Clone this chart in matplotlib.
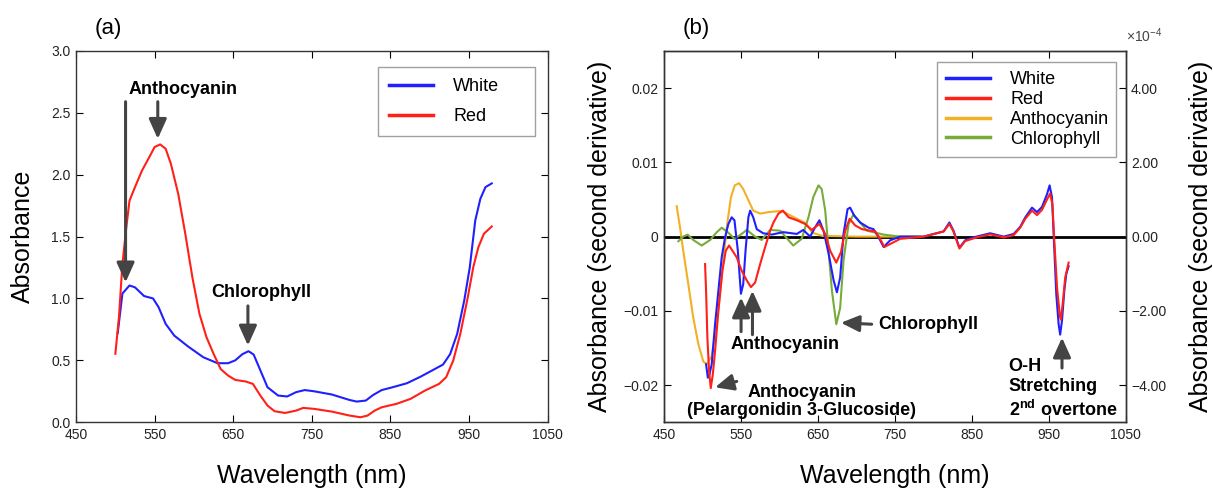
#!/usr/bin/env python3
from __future__ import annotations

import matplotlib

matplotlib.use("Agg")
import matplotlib.pyplot as plt
from matplotlib.ticker import FixedLocator, FuncFormatter


# panel (a): absorbance spectra
WHITE_WL = [503, 509, 518, 525, 536.5, 548, 555, 564, 575, 593, 612, 630, 643.5,
            652.6, 661.7, 669.4, 676, 684.5, 693.6, 707, 718.6, 730, 741, 753,
            775.5, 798, 807, 818.7, 828, 839, 853, 871, 889, 903, 917, 926, 935,
            944, 951, 958, 964.5, 971, 979]
WHITE_ABS = [0.72, 1.04, 1.105, 1.09, 1.02, 1.0, 0.93, 0.795, 0.70, 0.61, 0.525,
             0.477, 0.477, 0.50, 0.55, 0.574, 0.547, 0.42, 0.283, 0.216, 0.208,
             0.243, 0.26, 0.25, 0.224, 0.18, 0.167, 0.175, 0.22, 0.26, 0.283,
             0.315, 0.37, 0.418, 0.466, 0.55, 0.714, 0.984, 1.25, 1.63, 1.806,
             1.9, 1.93]

RED_WL = [500, 504.6, 509, 514, 518, 525, 534, 543, 550, 557, 564, 570.6, 580,
          589, 598, 607, 616, 625, 634, 643.5, 652.6, 666, 675, 684.5, 693.6,
          702.6, 716, 730, 739, 753, 775.5, 798, 812, 821, 830, 839, 857.5,
          875.7, 894, 912, 921, 930, 939, 948.5, 955.5, 962, 969, 979]
RED_ABS = [0.553, 0.85, 1.28, 1.577, 1.79, 1.90, 2.035, 2.14, 2.224, 2.245, 2.21,
           2.09, 1.846, 1.523, 1.172, 0.876, 0.687, 0.553, 0.43, 0.377, 0.342,
           0.329, 0.31, 0.216, 0.135, 0.089, 0.075, 0.094, 0.116, 0.108, 0.086,
           0.054, 0.04, 0.054, 0.094, 0.121, 0.148, 0.189, 0.256, 0.31, 0.364,
           0.499, 0.714, 1.01, 1.253, 1.415, 1.523, 1.582]

# panel (b): second derivative spectra
D2_WHITE_WL = [504.7, 507, 509, 512, 516.4, 520.7, 525, 529.4, 533.7, 538, 541.6,
               546, 550, 553, 556, 559.7, 562, 566, 570.6, 579, 590, 605, 622.7,
               631, 640, 646.5, 652, 657.4, 664, 670.5, 674.8, 679, 683.4, 688.6,
               692, 697.4, 705, 716, 722.4, 729, 735.5, 744, 757, 787.5, 800.5,
               813.5, 821, 826.3, 834.1, 841.5, 852.3, 874, 891.6, 904.6, 913,
               919.7, 928.4, 934.9, 941.4, 947.9, 951.3, 954.4, 956.5, 960, 963,
               965, 967.4, 970.4, 973, 976]
D2_WHITE = [-0.0172, -0.0190, -0.0186, -0.0172, -0.0118, -0.0073, -0.0028,
            -0.0001, 0.0017, 0.0026, 0.0022, -0.0019, -0.0077, -0.0064, -0.0019,
            0.0026, 0.0035, 0.0026, 0.0010, 0.00045, 0.00027, 0.0006, 0.00036,
            0.0009, 0.0, 0.00126, 0.0022, 0.0008, -0.0023, -0.0059, -0.0075,
            -0.0055, 0.00036, 0.0037, 0.0039, 0.0028, 0.0019, 0.0012, 0.0010,
            -0.0001, -0.0014, -0.0005, 0.0, 0.0, 0.00036, 0.0007, 0.0019, 0.0008,
            -0.0015, -0.0005, -0.0001, 0.00045, 0.0, 0.00036, 0.0013, 0.0026,
            0.0039, 0.0033, 0.0040, 0.0057, 0.0069, 0.0053, 0.0004, -0.0078,
            -0.0118, -0.0132, -0.0113, -0.0073, -0.0050, -0.0040]

D2_RED_WL = [503.4, 504.7, 506.4, 508.6, 510.8, 513.4, 516.4, 520.7, 525.9,
             530.3, 534.6, 539, 544.6, 551, 557.6, 563, 568.4, 575, 581.5, 588,
             592.3, 598.8, 604.5, 612, 622.7, 633.5, 642, 652, 659.6, 666, 674,
             680, 685.6, 691.3, 698.6, 707.4, 718, 724.6, 731, 736.4, 744, 757,
             787.5, 805, 813.5, 821, 826.3, 834, 841.5, 856.6, 874, 891.6, 904.6,
             913, 919.7, 928.4, 934.9, 941.4, 947.9, 952, 955, 957.4, 961, 964.6,
             966, 968.6, 971.6, 976]
D2_RED = [-0.0037, -0.0073, -0.0136, -0.0181, -0.0204, -0.0186, -0.0154,
          -0.0100, -0.0046, -0.0019, -0.0012, -0.0019, -0.0028, -0.0046, -0.0059,
          -0.0068, -0.0062, -0.0037, -0.0014, 0.0008, 0.0019, 0.0031, 0.0035,
          0.0026, 0.0022, 0.0017, 0.0009, 0.0017, 0.00036, -0.0019, -0.0035,
          -0.0021, 0.0008, 0.0024, 0.0015, 0.0010, 0.0008, 0.0007, -0.0003,
          -0.0014, -0.0010, -0.0003, 0.0, 0.00045, 0.0007, 0.0017, 0.0007,
          -0.0016, -0.0006, -0.0001, 0.0003, -0.0001, 0.0002, 0.0012, 0.0024,
          0.0035, 0.0029, 0.0036, 0.0050, 0.0058, 0.0043, -0.0006, -0.0069,
          -0.0107, -0.0112, -0.0087, -0.0055, -0.0035]

D2_ANTHO_WL = [466.5, 470.8, 475, 481.6, 488, 494.7, 501, 505.5, 512, 518.6, 525,
               531.6, 537, 542, 547.6, 553, 559.7, 566, 575, 585.8, 603, 619,
               634.6, 642.5, 655.6, 700, 750, 783]
D2_ANTHO = [0.0041, 0.00126, -0.0019, -0.0064, -0.0109, -0.0145, -0.0168,
            -0.0172, -0.0161, -0.0118, -0.0055, 0.00126, 0.0053, 0.0069, 0.0072,
            0.0064, 0.0049, 0.0035, 0.0031, 0.0033, 0.00347, 0.0026, 0.0018,
            0.00054, 0.0001, 0.0, 0.0, 0.0]

D2_CHLORO_WL = [468.7, 475, 480.8, 488, 499, 510, 518.6, 525, 533, 541.6, 551,
                557.6, 568.4, 577, 588, 601, 618, 629, 637.8, 644, 650.8, 655,
                659.6, 664, 668.3, 674, 679, 683.4, 690, 696.4, 705, 713.8, 722.4,
                735.5, 757, 783]
D2_CHLORO = [-0.00063, 0.0, 0.00027, -0.00045, -0.0012, -0.00045, 0.00059,
             0.0012, 0.00059, -0.0003, 0.00036, 0.0009, 0.0, -0.00045, 0.0009,
             0.0008, -0.0012, -0.0003, 0.0026, 0.0053, 0.0069, 0.0064, 0.0035,
             -0.0019, -0.0073, -0.0118, -0.0096, -0.0032, 0.0017, 0.0030, 0.0019,
             0.0008, 0.00059, 0.00027, 0.0, 0.0]

BLUE = "#2020ff"
RED = "#ff2018"
ORANGE = "#f2b024"
GREEN = "#77ab3a"
ARROW = "#444444"
FONT = "Liberation Sans"


plt.rcParams["font.family"] = FONT
plt.rcParams["mathtext.fontset"] = "custom"
plt.rcParams["mathtext.rm"] = FONT
plt.rcParams["mathtext.bf"] = FONT + ":bold"


def arrow(ax, tip, tail, size=12):
    ax.annotate(
        "",
        xy=tip,
        xytext=tail,
        arrowprops=dict(
            arrowstyle="-|>,head_length=1.0,head_width=0.45",
            mutation_scale=size,
            lw=2.2,
            color=ARROW,
            shrinkA=0,
            shrinkB=0,
        ),
    )


def style_axes(ax):
    ax.set_xlim(450, 1050)
    ax.xaxis.set_major_locator(FixedLocator([450, 550, 650, 750, 850, 950, 1050]))
    ax.tick_params(direction="in", length=5, width=0.8, labelsize=10,
                   labelcolor="#222222", top=True, pad=4)
    for spine in ax.spines.values():
        spine.set_linewidth(1.0)
        spine.set_color("#333333")
    ax.set_xlabel("Wavelength (nm)", fontsize=18, labelpad=16)


def legend_box(ax, left, top, width, spacing, pad):
    # expand mode stretches the box to the given width, text stays left
    leg = ax.legend(loc="upper left", bbox_to_anchor=(left, top, width, 0.0),
                    mode="expand", borderaxespad=0, fontsize=13, handlelength=2.45,
                    handletextpad=1.1, labelspacing=spacing, borderpad=pad,
                    fancybox=False, edgecolor="#888888")
    leg.get_frame().set_linewidth(1.0)
    for line in leg.get_lines():
        line.set_linewidth(2.5)
    return leg


def main() -> None:
    fig = plt.figure(figsize=(12.13, 4.95), dpi=100)
    ax_a = fig.add_axes([0.0627, 0.147, 0.3887, 0.750])
    ax_b = fig.add_axes([0.5474, 0.147, 0.3805, 0.750])

    # ---- (a)
    ax_a.plot(WHITE_WL, WHITE_ABS, color=BLUE, lw=1.5, label="White")
    ax_a.plot(RED_WL, RED_ABS, color=RED, lw=1.5, label="Red")
    style_axes(ax_a)
    ax_a.set_ylim(0, 3.0)
    ax_a.yaxis.set_major_locator(FixedLocator([0, 0.5, 1.0, 1.5, 2.0, 2.5, 3.0]))
    ax_a.yaxis.set_major_formatter(FuncFormatter(lambda v, _: f"{v:.1f}"))
    ax_a.tick_params(right=True)
    ax_a.set_ylabel("Absorbance", fontsize=18, labelpad=12)
    legend_box(ax_a, 0.640, 0.957, 0.3335, 0.72, 0.62)

    ax_a.text(517, 2.69, "Anthocyanin", fontsize=13, fontweight="bold", va="center")
    arrow(ax_a, (513, 1.13), (513, 2.59))
    arrow(ax_a, (554, 2.29), (554, 2.59))
    ax_a.text(622, 1.05, "Chlorophyll", fontsize=13, fontweight="bold", va="center")
    arrow(ax_a, (668.7, 0.62), (668.7, 0.94))
    fig.text(0.078, 0.943, "(a)", fontsize=16, va="center")

    # ---- (b)
    ax_b.axhline(0, color="black", lw=2, zorder=1)
    ax_b.plot(D2_WHITE_WL, D2_WHITE, color=BLUE, lw=1.5, label="White", zorder=3)
    ax_b.plot(D2_RED_WL, D2_RED, color=RED, lw=1.5, label="Red", zorder=4)
    ax_b.plot(D2_ANTHO_WL, D2_ANTHO, color=ORANGE, lw=1.5, label="Anthocyanin", zorder=2)
    ax_b.plot(D2_CHLORO_WL, D2_CHLORO, color=GREEN, lw=1.5, label="Chlorophyll", zorder=2)
    style_axes(ax_b)
    ax_b.set_ylim(-0.025, 0.025)
    ax_b.yaxis.set_major_locator(FixedLocator([-0.02, -0.01, 0, 0.01, 0.02]))
    ax_b.yaxis.set_major_formatter(
        FuncFormatter(lambda v, _: "0" if abs(v) < 1e-9 else f"{v:.2f}".replace("-", "\u2212"))
    )
    ax_b.set_ylabel("Absorbance (second derivative)", fontsize=18, labelpad=8)

    ax_r = ax_b.twinx()
    ax_r.set_ylim(-5, 5)
    ax_r.yaxis.set_major_locator(FixedLocator([-4, -2, 0, 2, 4]))
    ax_r.yaxis.set_major_formatter(
        FuncFormatter(lambda v, _: f"{v:.2f}".replace("-", "\u2212"))
    )
    ax_r.tick_params(direction="in", length=5, width=0.8, labelsize=10,
                     labelcolor="#222222", pad=4)
    for spine in ax_r.spines.values():
        spine.set_linewidth(1.0)
        spine.set_color("#333333")
    ax_r.set_ylabel("Absorbance (second derivative)", fontsize=18, labelpad=16)
    ax_r.text(1.0, 1.04, r"$\times 10^{-4}$", transform=ax_r.transAxes,
              fontsize=10, color="#444444", ha="left", va="center")

    legend_box(ax_b, 0.5915, 0.970, 0.3875, 0.16, 0.5)

    arrow(ax_b, (550.2, -0.0082), (550.2, -0.0128))
    arrow(ax_b, (565, -0.0073), (565, -0.0132))
    ax_b.text(608, -0.01455, "Anthocyanin", fontsize=13, fontweight="bold",
              ha="center", va="center")
    arrow(ax_b, (680, -0.0116), (720, -0.0118), size=11)
    ax_b.text(729, -0.01185, "Chlorophyll", fontsize=13, fontweight="bold", va="center")
    arrow(ax_b, (516.4, -0.0203), (544.6, -0.0195), size=11)
    ax_b.text(629, -0.0222, "Anthocyanin\n(Pelargonidin 3-Glucoside)", fontsize=13,
              fontweight="bold", ha="center", va="center", linespacing=1.1)
    arrow(ax_b, (967.4, -0.0136), (967.4, -0.0177))
    ax_b.text(898, -0.0205, "O-H\nStretching\n" + r"2$^{\mathbf{nd}}$ overtone",
              fontsize=13, fontweight="bold", ha="left", va="center", linespacing=1.25)
    fig.text(0.563, 0.943, "(b)", fontsize=16, va="center")

    fig.savefig("out.png", dpi=100)


if __name__ == "__main__":
    main()
